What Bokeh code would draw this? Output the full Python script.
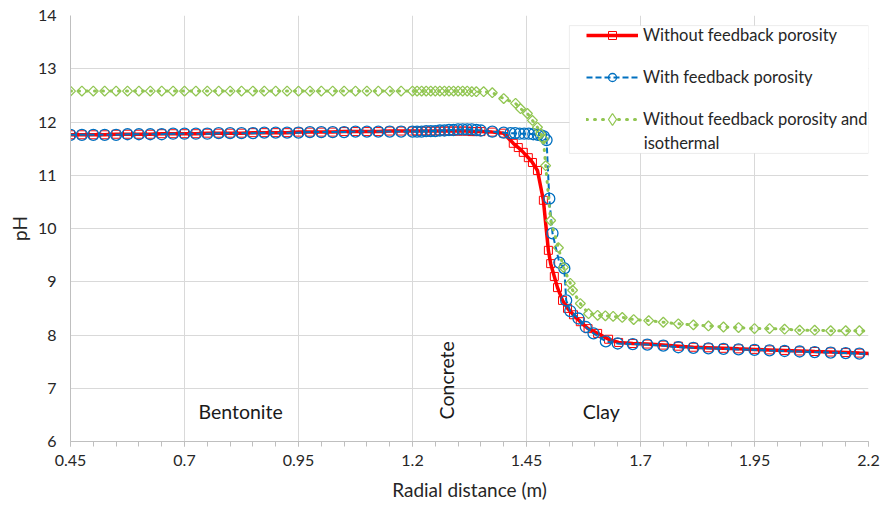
import numpy as np
from bokeh.plotting import figure
from bokeh.models import (Range1d, FixedTicker, CustomJSTickFormatter, Legend,
                          LegendItem, Label, BoxAnnotation)
from bokeh.embed import file_html
from bokeh.resources import INLINE

# ---------------- data ----------------
x_ticks = [0.45, 0.7, 0.95, 1.2, 1.45, 1.7, 1.95, 2.2]
y_ticks = [6, 7, 8, 9, 10, 11, 12, 13, 14]

dist_bentonite = [0.45, 0.475, 0.5, 0.525, 0.55, 0.575, 0.6, 0.625, 0.65, 0.675,
                  0.7, 0.725, 0.75, 0.775, 0.8, 0.825, 0.85, 0.875, 0.9, 0.925,
                  0.95, 0.975, 1.0, 1.025, 1.05, 1.075, 1.1, 1.125, 1.15, 1.175, 1.2]
dist_concrete = [1.21, 1.22, 1.23, 1.24, 1.25, 1.26, 1.27, 1.28, 1.29, 1.30,
                 1.31, 1.32, 1.33, 1.34]

# Without feedback porosity
ph_red_bentonite = [11.76, 11.76, 11.76, 11.76, 11.77, 11.77, 11.77, 11.77, 11.78, 11.78,
                    11.78, 11.78, 11.79, 11.79, 11.79, 11.79, 11.80, 11.80, 11.80, 11.80,
                    11.81, 11.81, 11.81, 11.81, 11.82, 11.82, 11.82, 11.82, 11.83, 11.83, 11.83]
ph_red_concrete = [11.83, 11.83, 11.83, 11.83, 11.83, 11.83, 11.83, 11.83, 11.83, 11.83,
                   11.83, 11.83, 11.82, 11.82]
dist_red_clay = [1.35, 1.375, 1.40, 1.421, 1.432, 1.443, 1.454, 1.463, 1.474, 1.487,
                 1.498, 1.503, 1.511, 1.518, 1.529, 1.54, 1.553, 1.568, 1.585, 1.606,
                 1.63, 1.652, 1.683, 1.715, 1.75, 1.783, 1.816, 1.849, 1.882, 1.915,
                 1.95, 1.983, 2.016, 2.049, 2.082, 2.117, 2.15, 2.18, 2.213]
ph_red_clay = [11.82, 11.81, 11.79, 11.60, 11.52, 11.43, 11.33, 11.24, 11.09, 10.53,
               9.59, 9.34, 9.10, 8.89, 8.65, 8.50, 8.38, 8.25, 8.12, 8.03,
               7.92, 7.86, 7.84, 7.83, 7.81, 7.79, 7.77, 7.76, 7.75, 7.74,
               7.73, 7.72, 7.71, 7.70, 7.69, 7.68, 7.67, 7.66, 7.65]

# With feedback porosity
ph_blue_bentonite = [11.76, 11.76, 11.76, 11.76, 11.76, 11.77, 11.77, 11.77, 11.77, 11.78,
                     11.78, 11.78, 11.78, 11.79, 11.79, 11.79, 11.79, 11.80, 11.80, 11.80,
                     11.80, 11.81, 11.81, 11.81, 11.81, 11.82, 11.82, 11.82, 11.82, 11.82, 11.82]
ph_blue_concrete = [11.82, 11.82, 11.83, 11.83, 11.83, 11.84, 11.84, 11.85, 11.85, 11.86,
                    11.86, 11.86, 11.86, 11.85]
dist_blue_clay = [1.35, 1.375, 1.40, 1.415, 1.425, 1.435, 1.445, 1.455, 1.465, 1.475,
                  1.482, 1.488, 1.494, 1.50, 1.507, 1.522, 1.533, 1.537, 1.546, 1.564,
                  1.58, 1.597, 1.624, 1.65, 1.683, 1.715, 1.75, 1.783, 1.816, 1.849,
                  1.882, 1.915, 1.95, 1.983, 2.016, 2.049, 2.082, 2.117, 2.15, 2.18, 2.213]
ph_blue_clay = [11.84, 11.82, 11.80, 11.79, 11.79, 11.78, 11.78, 11.78, 11.77, 11.76,
                11.75, 11.73, 11.66, 10.56, 9.91, 9.36, 9.25, 8.65, 8.45, 8.31,
                8.15, 8.03, 7.88, 7.84, 7.83, 7.82, 7.80, 7.77, 7.76, 7.75,
                7.74, 7.73, 7.72, 7.71, 7.70, 7.69, 7.68, 7.67, 7.66, 7.65, 7.64]

# Without feedback porosity and isothermal
ph_green_bentonite = [12.58] * 31
ph_green_concrete = [12.58, 12.58, 12.58, 12.58, 12.58, 12.58, 12.58, 12.58, 12.58, 12.58,
                     12.58, 12.58, 12.57, 12.57]
dist_green_clay = [1.356, 1.375, 1.40, 1.426, 1.437, 1.452, 1.463, 1.474, 1.481, 1.487,
                   1.492, 1.503, 1.52, 1.531, 1.546, 1.551, 1.568, 1.586, 1.606, 1.623,
                   1.64, 1.66, 1.685, 1.718, 1.75, 1.783, 1.816, 1.849, 1.882, 1.915,
                   1.95, 1.983, 2.016, 2.049, 2.082, 2.117, 2.15, 2.18, 2.213]
ph_green_clay = [12.57, 12.55, 12.44, 12.35, 12.25, 12.16, 12.03, 11.90, 11.78, 11.68,
                 11.18, 10.15, 9.64, 9.27, 8.97, 8.84, 8.59, 8.40, 8.37, 8.36,
                 8.35, 8.33, 8.29, 8.27, 8.24, 8.21, 8.19, 8.17, 8.15, 8.14,
                 8.12, 8.12, 8.11, 8.09, 8.09, 8.08, 8.08, 8.08, 8.07]

x_red = dist_bentonite + dist_concrete + dist_red_clay
y_red = ph_red_bentonite + ph_red_concrete + ph_red_clay
x_blue = dist_bentonite + dist_concrete + dist_blue_clay
y_blue = ph_blue_bentonite + ph_blue_concrete + ph_blue_clay
x_green = dist_bentonite + dist_concrete + dist_green_clay
y_green = ph_green_bentonite + ph_green_concrete + ph_green_clay

series_labels = ["Without feedback porosity", "With feedback porosity",
                 "Without feedback porosity and", "isothermal"]
zone_labels = ["Bentonite", "Concrete", "Clay"]

# ---------------- figure ----------------
FONT = "Lato"
TXT = "#262626"
GRID = "#d9d9d9"

p = figure(width=880, height=507, output_backend="svg", toolbar_location=None,
           x_range=Range1d(0.45, 2.2), y_range=Range1d(6, 14),
           min_border_left=70, min_border_right=12, min_border_top=15,
           min_border_bottom=66)
p.outline_line_color = None
p.background_fill_color = "white"

minor = [round(0.45 + 0.05 * i, 2) for i in range(36)]
p.xaxis.ticker = FixedTicker(ticks=x_ticks, minor_ticks=minor)
p.yaxis.ticker = FixedTicker(ticks=y_ticks)
p.xaxis.formatter = CustomJSTickFormatter(code="return tick.toFixed(2).replace(/0$/, '');")
p.xgrid.ticker = FixedTicker(ticks=x_ticks)
p.ygrid.ticker = FixedTicker(ticks=y_ticks)
p.grid.grid_line_color = GRID
p.grid.grid_line_width = 1

for ax in (p.xaxis, p.yaxis):
    ax.axis_line_color = "#bfbfbf"
    ax.major_label_text_font = FONT
    ax.major_label_text_font_size = "16px"
    ax.major_label_text_color = TXT
    ax.axis_label_text_font = FONT
    ax.axis_label_text_font_size = "19px"
    ax.axis_label_text_font_style = "normal"
    ax.axis_label_text_color = TXT

p.xaxis.axis_label = "Radial distance (m)"
p.yaxis.axis_label = "pH"
p.xaxis.major_tick_line_color = "#bfbfbf"
p.xaxis.minor_tick_line_color = "#bfbfbf"
p.xaxis.major_tick_out = 5
p.xaxis.major_tick_in = 0
p.xaxis.minor_tick_out = 5
p.xaxis.minor_tick_in = 0
p.xaxis.major_label_standoff = 8
p.xaxis.axis_label_standoff = 9
p.yaxis.major_tick_line_color = None
p.yaxis.minor_tick_line_color = None
p.yaxis.major_tick_out = 0
p.yaxis.major_tick_in = 0
p.yaxis.major_label_standoff = 14
p.yaxis.axis_label_standoff = 4

RED = "#ff0000"
BLUE = "#0070c0"
GREEN = "#92c653"

l_red = p.line(x_red, y_red, line_color=RED, line_width=3.5)
s_red = p.scatter(x_red, y_red, marker="square", size=8, line_color=RED,
                  fill_color=None, line_width=1)
l_blue = p.line(x_blue, y_blue, line_color=BLUE, line_width=2, line_dash="6 3")
s_blue = p.scatter(x_blue, y_blue, marker="circle", size=11, line_color=BLUE,
                   fill_color=None, line_width=1.3)
l_green = p.line(x_green, y_green, line_color=GREEN, line_width=3, line_dash="1 7",
                 line_cap="round")
s_green = p.scatter(x_green, y_green, marker="square", angle=np.pi / 4, size=7,
                    line_color=GREEN, fill_color=None, line_width=1.3)
# hidden copy of the green series, only used to draw a diamond key in the legend
s_green_key = p.scatter(x_green, y_green, marker="diamond", size=14, line_color=GREEN,
                        fill_color="white", line_width=1.3, visible=False)

# legend frame
box = BoxAnnotation(left=1.544, right=2.2, top=13.81, bottom=11.41,
                    fill_color="white", fill_alpha=1.0,
                    line_color="#bfbfbf", line_width=1)
p.add_layout(box)

common = dict(orientation="vertical", glyph_width=52, padding=0, margin=0,
              label_standoff=5, border_line_alpha=0, background_fill_alpha=0,
              label_text_font=FONT, label_text_font_size="16.5px",
              label_text_color=TXT)
legend1 = Legend(items=[LegendItem(label=series_labels[0], renderers=[l_red, s_red]),
                        LegendItem(label=series_labels[1], renderers=[l_blue, s_blue])],
                 location=(516, 354), glyph_height=20, label_height=20, spacing=22,
                 **common)
legend2 = Legend(items=[LegendItem(label=series_labels[2],
                                   renderers=[l_green, s_green_key])],
                 location=(516, 307), glyph_height=30, label_height=30, spacing=0,
                 **common)
p.add_layout(legend1)
p.add_layout(legend2)
p.add_layout(Label(x=1.707, y=11.615, text=series_labels[3], text_baseline="middle",
                   text_align="left", text_font=FONT, text_font_size="16.5px",
                   text_color=TXT))

# zone annotations
p.add_layout(Label(x=0.823, y=6.56, text=zone_labels[0], text_align="center",
                   text_baseline="middle", text_font=FONT, text_font_size="19.5px",
                   text_color="#1a1a1a"))
p.add_layout(Label(x=1.275, y=7.15, text=zone_labels[1], text_align="center",
                   text_baseline="middle", angle=np.pi / 2, text_font=FONT,
                   text_font_size="19.5px", text_color="#1a1a1a"))
p.add_layout(Label(x=1.614, y=6.56, text=zone_labels[2], text_align="center",
                   text_baseline="middle", text_font=FONT, text_font_size="19.5px",
                   text_color="#1a1a1a"))

open("out.html", "w").write(file_html(p, INLINE))
